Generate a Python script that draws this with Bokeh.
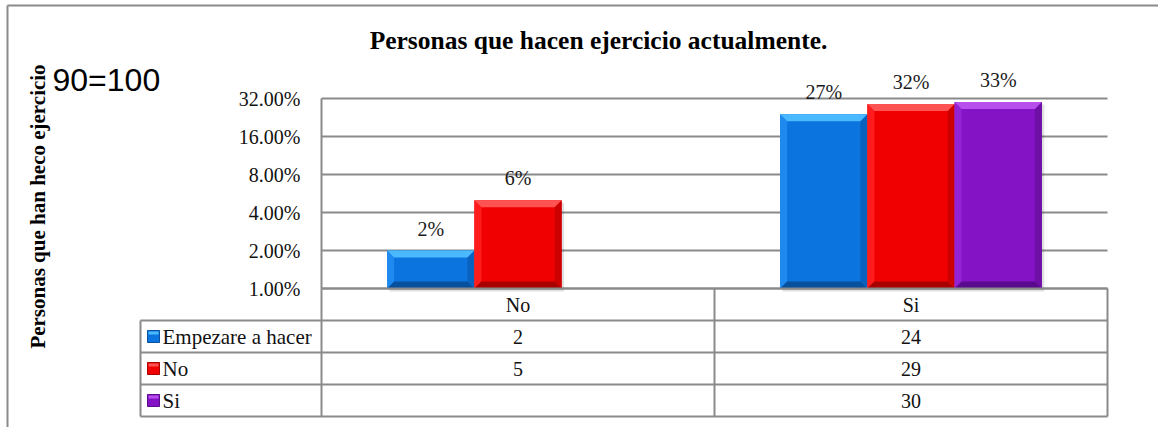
import math
from bokeh.plotting import figure
from bokeh.models import Range1d, LinearScale
from bokeh.embed import file_html
from bokeh.resources import INLINE
from bokeh.core.properties import value

# ---------------- data ----------------
categories = ["No", "Si"]
series_names = ["Empezare a hacer", "No", "Si"]
empezare = [2, 24]
no_vals = [5, 29]
si_vals = [None, 30]
total = 90
y_ticks = [1, 2, 4, 8, 16, 32]
chart_title = "Personas que hacen ejercicio actualmente."
y_title = "Personas que han heco ejercicio"
note = "90=100"

series_values = [empezare, no_vals, si_vals]

# ---------------- layout / styles ----------------
W, H = 1158, 427
X0_PX = 321            # page x of category origin (plot-area left)
BASE_PX = 288          # page y of the 1.00% line
TBL0_PX = 416          # page y of the table bottom
PX_CAT = 393           # px per category
PX_DBL = 38            # px per doubling (log axis)
ROW = 32               # table row height


def X(px):
    return (px - X0_PX) / PX_CAT


def T(py):
    return (TBL0_PX - py) / ROW


SERIF = value("Liberation Serif")
SANS = value("Liberation Sans")
GRID = "#8a8a8a"
TXT = "#111111"
BAR_W = 0.222
OFFS = [-0.222, 0.0, 0.222]
PAL = [
    dict(face="#0B74DE", top="#4BB9FF", bot="#06509E", left="#1E8AF0", right="#0862BE"),
    dict(face="#F00000", top="#FF5252", bot="#A80000", left="#FF1C1C", right="#CC0000"),
    dict(face="#8413C6", top="#B64FEB", bot="#5A0A8C", left="#9322D4", right="#6E0FA6"),
]

base = y_ticks[0]
p = figure(width=W, height=H,
           x_range=Range1d(X(0), X(W)),
           y_range=Range1d(base * 2 ** (-(H - BASE_PX) / PX_DBL),
                           base * 2 ** (BASE_PX / PX_DBL)),
           y_axis_type="log", x_axis_location=None, y_axis_location=None,
           output_backend="svg", toolbar_location=None,
           min_border_left=0, min_border_right=0, min_border_top=0, min_border_bottom=0)
p.outline_line_color = None
p.background_fill_color = "white"
p.border_fill_color = "white"
p.xgrid.visible = False
p.ygrid.visible = False

p.extra_y_ranges = {"tbl": Range1d(T(H), T(0))}
p.extra_y_scales = {"tbl": LinearScale()}

n_cat = len(categories)
n_rows = len(series_names)

# outer chart border
p.segment(x0=[X(7), X(7)], x1=[X(7), X(W + 10)], y0=[T(5), T(5)], y1=[T(H + 10), T(5)],
          y_range_name="tbl", line_color=GRID, line_width=2)

# horizontal gridlines, y tick labels, left border of plot area
p.segment(x0=[0] * len(y_ticks), x1=[n_cat] * len(y_ticks), y0=y_ticks, y1=y_ticks,
          line_color=GRID, line_width=2)
p.segment(x0=[0], x1=[0], y0=[y_ticks[0]], y1=[y_ticks[-1]], line_color=GRID, line_width=2)
p.text(x=[X(300)] * len(y_ticks), y=y_ticks, text=[f"{t:.2f}%" for t in y_ticks],
       text_align="right", text_baseline="middle", text_font=SERIF,
       text_font_size="20px", text_color=TXT)

# ---------------- bars with bevel ----------------
dx = 7 / PX_CAT
f = 2 ** (7 / PX_DBL)
lab_x, lab_y, lab_t = [], [], []
for k, vals in enumerate(series_values):
    c = PAL[k]
    xs, tops = [], []
    for i, v in enumerate(vals):
        if v is None:
            continue
        xs.append(i + 0.5 + OFFS[k])
        tops.append(v)
        lab_x.append(i + 0.5 + OFFS[k])
        lab_y.append(v)
        lab_t.append(f"{round(v / total * 100)}%")
    p.vbar(x=[x + 2.5 / PX_CAT for x in xs], top=[t / 2 ** (2.5 / PX_DBL) for t in tops],
           bottom=base / 2 ** (3 / PX_DBL), width=BAR_W, fill_color="#000000",
           fill_alpha=0.12, line_color=None)
    p.vbar(x=xs, top=tops, bottom=base, width=BAR_W, fill_color=c["face"], line_color=None)
    tx, ty, bx, by, lx, ly, rx, ry = [], [], [], [], [], [], [], []
    for x, t in zip(xs, tops):
        x0, x1 = x - BAR_W / 2, x + BAR_W / 2
        tx.append([x0, x1, x1 - dx, x0 + dx]); ty.append([t, t, t / f, t / f])
        bx.append([x0, x1, x1 - dx, x0 + dx]); by.append([base, base, base * f, base * f])
        lx.append([x0, x0 + dx, x0 + dx, x0]); ly.append([base, base * f, t / f, t])
        rx.append([x1, x1 - dx, x1 - dx, x1]); ry.append([base, base * f, t / f, t])
    p.patches(lx, ly, fill_color=c["left"], line_color=None)
    p.patches(rx, ry, fill_color=c["right"], line_color=None)
    p.patches(bx, by, fill_color=c["bot"], line_color=None)
    p.patches(tx, ty, fill_color=c["top"], line_color=None)

p.text(x=lab_x, y=lab_y, text=lab_t, text_align="center", text_baseline="middle",
       y_offset=-22, text_font=SERIF, text_font_size="20px", text_color="#1a1a1a")

# ---------------- data table ----------------
p.segment(x0=[X(140)] * n_rows, x1=[n_cat] * n_rows,
          y0=list(range(n_rows)), y1=list(range(n_rows)),
          y_range_name="tbl", line_color=GRID, line_width=2)
p.segment(x0=[X(140)], x1=[n_cat], y0=[n_rows], y1=[n_rows],
          y_range_name="tbl", line_color=GRID, line_width=2)
p.segment(x0=[0], x1=[n_cat], y0=[n_rows + 1], y1=[n_rows + 1],
          y_range_name="tbl", line_color=GRID, line_width=2)
p.segment(x0=[X(140)] + list(range(0, n_cat + 1)), x1=[X(140)] + list(range(0, n_cat + 1)),
          y0=[0] * (n_cat + 2), y1=[n_rows] + [n_rows + 1] * (n_cat + 1),
          y_range_name="tbl", line_color=GRID, line_width=2)
p.text(x=[i + 0.5 for i in range(n_cat)], y=[n_rows + 0.5] * n_cat, text=categories,
       y_range_name="tbl", text_align="center", text_baseline="middle",
       text_font=SERIF, text_font_size="20px", text_color=TXT)
cx, cy, ct = [], [], []
for k, vals in enumerate(series_values):
    for i, v in enumerate(vals):
        if v is None:
            continue
        cx.append(i + 0.5)
        cy.append(n_rows - k - 0.5)
        ct.append(str(v))
p.text(x=cx, y=cy, text=ct, y_range_name="tbl", text_align="center", text_baseline="middle",
       text_font=SERIF, text_font_size="20px", text_color=TXT)
rows_c = [n_rows - k - 0.5 for k in range(n_rows)]
p.quad(left=X(147), right=X(159), top=[r + 6 / ROW for r in rows_c],
       bottom=[r - 6 / ROW for r in rows_c], y_range_name="tbl",
       fill_color=[c["face"] for c in PAL], line_color=[c["bot"] for c in PAL], line_width=1)
p.quad(left=X(148), right=X(158), top=[r + 5 / ROW for r in rows_c],
       bottom=[r + 2 / ROW for r in rows_c], y_range_name="tbl",
       fill_color=[c["top"] for c in PAL], line_color=None)
p.text(x=[X(162)] * n_rows, y=rows_c, text=series_names, y_range_name="tbl",
       text_align="left", text_baseline="middle", text_font=SERIF,
       text_font_size="21px", text_color=TXT)

# ---------------- titles ----------------
p.text(x=[X(598)], y=[T(40)], text=[chart_title], y_range_name="tbl",
       text_align="center", text_baseline="middle", text_font=SERIF,
       text_font_size="25.5px", text_font_style="bold", text_color="#000000")
p.text(x=[X(37)], y=[T(206)], text=[y_title], y_range_name="tbl", angle=math.pi / 2,
       text_align="center", text_baseline="middle", text_font=SERIF,
       text_font_size="21px", text_font_style="bold", text_color="#000000")
p.text(x=[X(52)], y=[T(79)], text=[note], y_range_name="tbl",
       text_align="left", text_baseline="middle", text_font=SANS,
       text_font_size="32px", text_color="#000000")

open("out.html", "w").write(file_html(p, INLINE))
